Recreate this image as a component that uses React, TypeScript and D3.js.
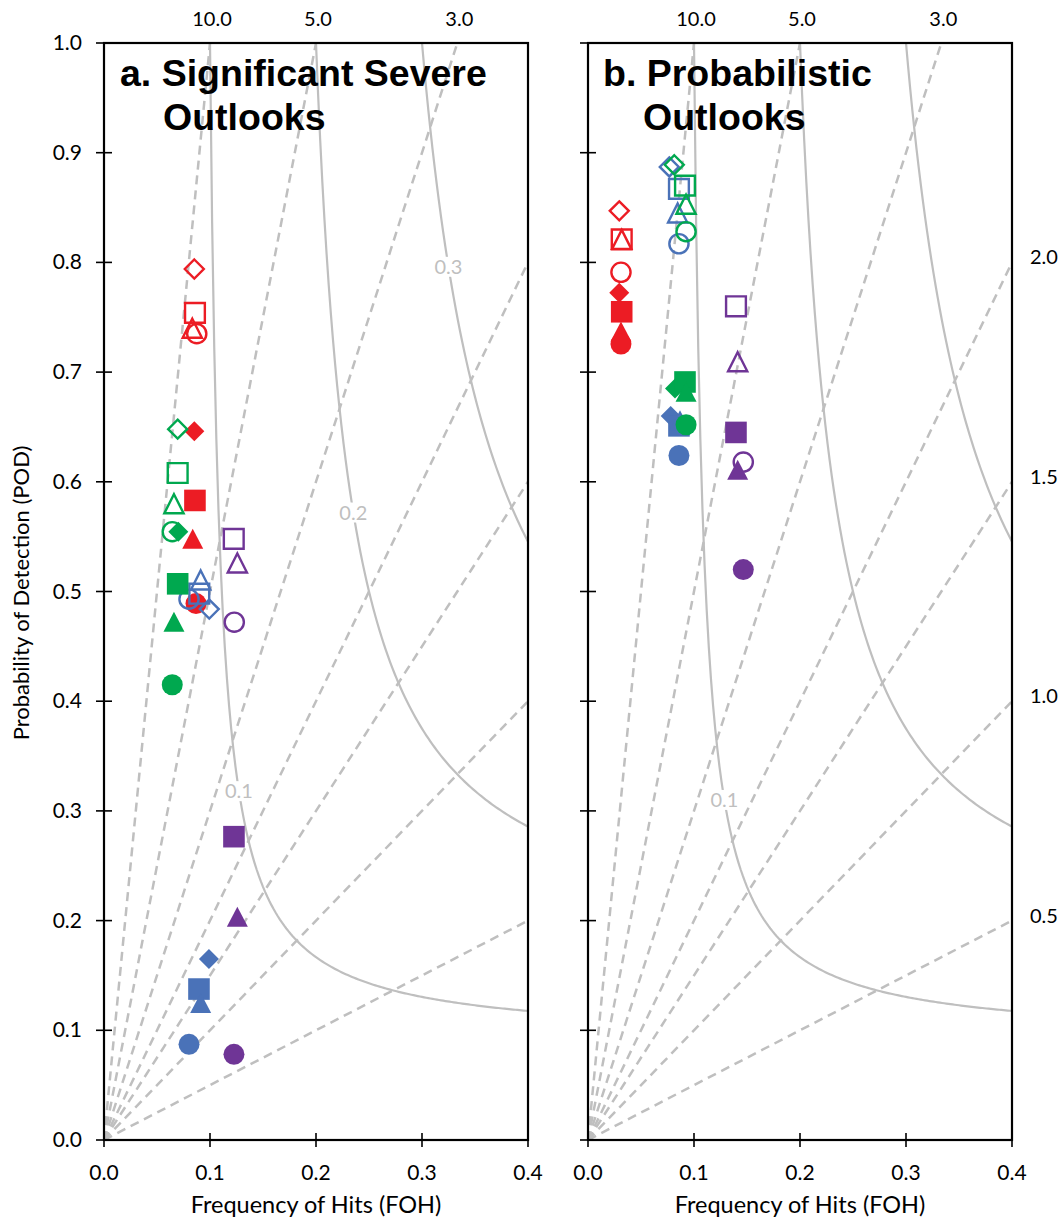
import React, { useEffect, useRef } from 'react';
import * as d3 from 'd3';

const W = 1063;
const H = 1221;

// reference lines of the performance diagram
const biasLevels = [0.5, 1, 1.5, 2, 3, 5, 10];
const csiLevels = [0.1, 0.2, 0.3];
const xTicks = [0, 0.1, 0.2, 0.3, 0.4];
const yTicks = [0, 0.1, 0.2, 0.3, 0.4, 0.5, 0.6, 0.7, 0.8, 0.9, 1.0];

const RED = '#ec1c24';
const GREEN = '#00a84f';
const BLUE = '#4a72b8';
const PURPLE = '#6f3596';

type Pt = { shape: string; open: boolean; foh: number; pod: number };

// a. Significant severe outlooks
const sigRed: Pt[] = [
  { shape: 'diamond', open: true, foh: 0.0852, pod: 0.794 },
  { shape: 'square', open: true, foh: 0.0858, pod: 0.754 },
  { shape: 'triangle', open: true, foh: 0.0833, pod: 0.74 },
  { shape: 'circle', open: true, foh: 0.0875, pod: 0.735 },
  { shape: 'diamond', open: false, foh: 0.0852, pod: 0.646 },
  { shape: 'square', open: false, foh: 0.0858, pod: 0.583 },
  { shape: 'triangle', open: false, foh: 0.0837, pod: 0.548 },
  { shape: 'circle', open: false, foh: 0.0868, pod: 0.489 },
];
const sigBlue: Pt[] = [
  { shape: 'diamond', open: true, foh: 0.0993, pod: 0.484 },
  { shape: 'square', open: true, foh: 0.0899, pod: 0.498 },
  { shape: 'triangle', open: true, foh: 0.0912, pod: 0.5105 },
  { shape: 'circle', open: true, foh: 0.0802, pod: 0.493 },
  { shape: 'diamond', open: false, foh: 0.099, pod: 0.165 },
  { shape: 'square', open: false, foh: 0.0896, pod: 0.1376 },
  { shape: 'triangle', open: false, foh: 0.0912, pod: 0.1249 },
  { shape: 'circle', open: false, foh: 0.0802, pod: 0.0872 },
];
const sigGreen: Pt[] = [
  { shape: 'diamond', open: true, foh: 0.0695, pod: 0.648 },
  { shape: 'square', open: true, foh: 0.0695, pod: 0.608 },
  { shape: 'triangle', open: true, foh: 0.066, pod: 0.58 },
  { shape: 'circle', open: true, foh: 0.0644, pod: 0.5545 },
  { shape: 'diamond', open: false, foh: 0.0701, pod: 0.5545 },
  { shape: 'square', open: false, foh: 0.0695, pod: 0.507 },
  { shape: 'triangle', open: false, foh: 0.066, pod: 0.4725 },
  { shape: 'circle', open: false, foh: 0.0644, pod: 0.415 },
];
const sigPurple: Pt[] = [
  { shape: 'square', open: true, foh: 0.1224, pod: 0.548 },
  { shape: 'triangle', open: true, foh: 0.1258, pod: 0.526 },
  { shape: 'circle', open: true, foh: 0.1229, pod: 0.472 },
  { shape: 'square', open: false, foh: 0.1226, pod: 0.2765 },
  { shape: 'triangle', open: false, foh: 0.1258, pod: 0.2036 },
  { shape: 'circle', open: false, foh: 0.1226, pod: 0.0781 },
];

// b. Probabilistic outlooks
const probRed: Pt[] = [
  { shape: 'diamond', open: true, foh: 0.0295, pod: 0.847 },
  { shape: 'square', open: true, foh: 0.0318, pod: 0.821 },
  { shape: 'triangle', open: true, foh: 0.0318, pod: 0.821 },
  { shape: 'circle', open: true, foh: 0.0311, pod: 0.791 },
  { shape: 'diamond', open: false, foh: 0.0295, pod: 0.7724 },
  { shape: 'square', open: false, foh: 0.0318, pod: 0.755 },
  { shape: 'triangle', open: false, foh: 0.0311, pod: 0.737 },
  { shape: 'circle', open: false, foh: 0.0311, pod: 0.7256 },
];
const probBlue: Pt[] = [
  { shape: 'diamond', open: true, foh: 0.0767, pod: 0.887 },
  { shape: 'square', open: true, foh: 0.0858, pod: 0.867 },
  { shape: 'triangle', open: true, foh: 0.0846, pod: 0.845 },
  { shape: 'circle', open: true, foh: 0.0858, pod: 0.817 },
  { shape: 'diamond', open: false, foh: 0.078, pod: 0.66 },
  { shape: 'square', open: false, foh: 0.0858, pod: 0.651 },
  { shape: 'triangle', open: false, foh: 0.0868, pod: 0.656 },
  { shape: 'circle', open: false, foh: 0.0858, pod: 0.624 },
];
const probGreen: Pt[] = [
  { shape: 'diamond', open: true, foh: 0.0814, pod: 0.889 },
  { shape: 'square', open: true, foh: 0.0915, pod: 0.87 },
  { shape: 'triangle', open: true, foh: 0.0925, pod: 0.853 },
  { shape: 'circle', open: true, foh: 0.0925, pod: 0.828 },
  { shape: 'diamond', open: false, foh: 0.0821, pod: 0.685 },
  { shape: 'square', open: false, foh: 0.0915, pod: 0.691 },
  { shape: 'triangle', open: false, foh: 0.0925, pod: 0.682 },
  { shape: 'circle', open: false, foh: 0.0925, pod: 0.652 },
];
const probPurple: Pt[] = [
  { shape: 'square', open: true, foh: 0.1396, pod: 0.76 },
  { shape: 'triangle', open: true, foh: 0.1412, pod: 0.7095 },
  { shape: 'circle', open: true, foh: 0.1465, pod: 0.618 },
  { shape: 'square', open: false, foh: 0.1396, pod: 0.645 },
  { shape: 'triangle', open: false, foh: 0.1412, pod: 0.611 },
  { shape: 'circle', open: false, foh: 0.1465, pod: 0.52 },
];

const panels = [
  {
    id: 'a',
    title: ['a. Significant Severe', 'Outlooks'],
    titleX: [120, 163],
    range: [104, 528],
    yLabels: true,
    rightBias: false,
    csiLabels: [{ csi: 0.3, pod: 0.796 }, { csi: 0.2, pod: 0.572 }, { csi: 0.1, pod: 0.318 }],
    groups: [[sigRed, RED], [sigBlue, BLUE], [sigGreen, GREEN], [sigPurple, PURPLE]],
  },
  {
    id: 'b',
    title: ['b. Probabilistic', 'Outlooks'],
    titleX: [603, 643],
    range: [588, 1012],
    yLabels: false,
    rightBias: true,
    csiLabels: [{ csi: 0.1, pod: 0.31 }],
    groups: [[probRed, RED], [probBlue, BLUE], [probGreen, GREEN], [probPurple, PURPLE]],
  },
];

const FONT = 'Lato, "Open Sans", sans-serif';
const GREY = '#bfbfbf';

function markerPath(shape: string, open: boolean): string {
  if (shape === 'circle') {
    const r = open ? 9.6 : 10.5;
    return `M${r},0A${r},${r} 0 1,1 ${-r},0A${r},${r} 0 1,1 ${r},0Z`;
  }
  if (shape === 'square') {
    const s = open ? 9.9 : 10.8;
    return `M${-s},${-s}H${s}V${s}H${-s}Z`;
  }
  if (shape === 'diamond') {
    const r = open ? 9.5 : 10;
    return `M0,${-r}L${r},0L0,${r}L${-r},0Z`;
  }
  const w = open ? 9.6 : 10.5;
  const h = open ? 9.5 : 10;
  return `M0,${-h}L${w},${h}L${-w},${h}Z`;
}

const App = () => {
  const ref = useRef<SVGSVGElement>(null);

  useEffect(() => {
    const svg = d3.select(ref.current);
    svg.selectAll('*').remove();

    const y = d3.scaleLinear().domain([0, 1]).range([1140, 43]);

    panels.forEach(p => {
      const x = d3.scaleLinear().domain([0, 0.4]).range(p.range);
      const g = svg.append('g');

      g.append('clipPath').attr('id', `clip-${p.id}`)
        .append('rect')
        .attr('x', x(0)).attr('y', y(1))
        .attr('width', x(0.4) - x(0)).attr('height', y(0) - y(1));

      const plot = g.append('g').attr('clip-path', `url(#clip-${p.id})`);

      // bias lines (dashed)
      biasLevels.forEach(b => {
        const end = b * 0.4 <= 1 ? [0.4, b * 0.4] : [1 / b, 1];
        plot.append('line')
          .attr('x1', x(0)).attr('y1', y(0))
          .attr('x2', x(end[0])).attr('y2', y(end[1]))
          .attr('stroke', GREY).attr('stroke-width', 2.5)
          .attr('stroke-dasharray', '9,6');
      });

      // CSI curves
      csiLevels.forEach(c => {
        const line = d3.line<number>()
          .x(sr => x(sr))
          .y(sr => y(1 / (1 / c - 1 / sr + 1)));
        const srs = d3.range(c, 0.4001, 0.002);
        plot.append('path')
          .attr('d', line(srs))
          .attr('fill', 'none')
          .attr('stroke', GREY).attr('stroke-width', 2.2);
      });

      // CSI labels
      p.csiLabels.forEach(l => {
        const sr = 1 / (1 / l.csi - 1 / l.pod + 1);
        const cx = x(sr);
        const cy = y(l.pod);
        plot.append('rect')
          .attr('x', cx - 15).attr('y', cy - 10)
          .attr('width', 30).attr('height', 20)
          .attr('fill', '#fff');
        plot.append('text')
          .attr('x', cx).attr('y', cy + 7)
          .attr('text-anchor', 'middle')
          .attr('font-family', FONT).attr('font-size', 20)
          .attr('fill', GREY)
          .text(d3.format('.1f')(l.csi));
      });

      // markers
      p.groups.forEach(([pts, color]) => {
        (pts as Pt[]).forEach(d => {
          plot.append('path')
            .attr('transform', `translate(${x(d.foh)},${y(d.pod)})`)
            .attr('d', markerPath(d.shape, d.open))
            .attr('fill', d.open ? 'none' : (color as string))
            .attr('stroke', d.open ? (color as string) : 'none')
            .attr('stroke-width', 2.4);
        });
      });

      // frame
      g.append('rect')
        .attr('x', x(0)).attr('y', y(1))
        .attr('width', x(0.4) - x(0)).attr('height', y(0) - y(1))
        .attr('fill', 'none').attr('stroke', '#000').attr('stroke-width', 2.2);

      // y ticks
      yTicks.forEach(v => {
        g.append('line')
          .attr('x1', x(0) - 8).attr('x2', x(0) + 8)
          .attr('y1', y(v)).attr('y2', y(v))
          .attr('stroke', '#000').attr('stroke-width', 1.6);
        if (p.yLabels) {
          g.append('text')
            .attr('x', 82).attr('y', y(v) + 7)
            .attr('text-anchor', 'end')
            .attr('font-family', FONT).attr('font-size', 21)
            .text(d3.format('.1f')(v));
        }
      });

      // x ticks
      xTicks.forEach(v => {
        g.append('line')
          .attr('x1', x(v)).attr('x2', x(v))
          .attr('y1', y(0) - 7).attr('y2', y(0) + 7)
          .attr('stroke', '#000').attr('stroke-width', 1.6);
        g.append('text')
          .attr('x', x(v)).attr('y', 1180)
          .attr('text-anchor', 'middle')
          .attr('font-family', FONT).attr('font-size', 21)
          .text(d3.format('.1f')(v));
      });

      g.append('text')
        .attr('x', (x(0) + x(0.4)) / 2).attr('y', 1213)
        .attr('text-anchor', 'middle')
        .attr('font-family', FONT).attr('font-size', 23.5)
        .text('Frequency of Hits (FOH)');

      // bias labels
      biasLevels.forEach(b => {
        if (b * 0.4 > 1) {
          g.append('text')
            .attr('x', x(1 / b) + 2).attr('y', 26)
            .attr('text-anchor', 'middle')
            .attr('font-family', FONT).attr('font-size', 20)
            .text(d3.format('.1f')(b));
        } else if (p.rightBias && b * 0.4 < 1) {
          g.append('text')
            .attr('x', x(0.4) + 18).attr('y', y(b * 0.4) + 2)
            .attr('font-family', FONT).attr('font-size', 20)
            .text(d3.format('.1f')(b));
        }
      });

      // panel title
      p.title.forEach((t, i) => {
        g.append('text')
          .attr('x', p.titleX[i]).attr('y', i === 0 ? 86 : 130)
          .attr('font-family', '"Liberation Sans", Arial, sans-serif')
          .attr('font-weight', 'bold').attr('font-size', 37.5)
          .text(t);
      });
    });

    svg.append('text')
      .attr('transform', 'translate(29,593) rotate(-90)')
      .attr('text-anchor', 'middle')
      .attr('font-family', FONT).attr('font-size', 22)
      .text('Probability of Detection (POD)');
  }, []);

  return (
    <svg
      ref={ref}
      width={W}
      height={H}
      style={{ position: 'absolute', left: 0, top: 0, background: '#fff' }}
    />
  );
};

export default App;
